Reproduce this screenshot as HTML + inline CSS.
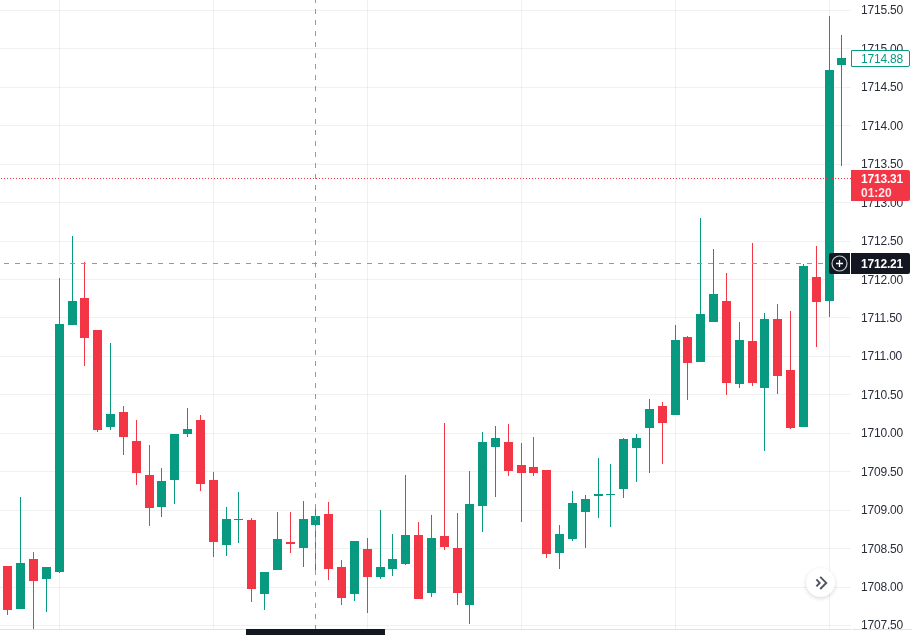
<!DOCTYPE html>
<html><head><meta charset="utf-8"><style>
html,body{margin:0;padding:0;background:#fff;}
body{width:912px;height:635px;overflow:hidden;position:relative;font-family:"Liberation Sans",sans-serif;}
svg{position:absolute;left:0;top:0;}
.pl{position:absolute;left:861px;height:14px;line-height:14px;font-size:12px;color:#2a2e39;letter-spacing:-0.2px;white-space:nowrap;-webkit-font-smoothing:antialiased;will-change:transform;}
.box{position:absolute;will-change:transform;box-sizing:border-box;font-size:12px;line-height:14px;white-space:nowrap;}
</style></head><body>
<svg width="912" height="635" viewBox="0 0 912 635" shape-rendering="crispEdges">
<rect x="0" y="10" width="851" height="1" fill="rgba(30,60,50,0.065)"/>
<rect x="0" y="48" width="851" height="1" fill="rgba(30,60,50,0.065)"/>
<rect x="0" y="87" width="851" height="1" fill="rgba(30,60,50,0.065)"/>
<rect x="0" y="125" width="851" height="1" fill="rgba(30,60,50,0.065)"/>
<rect x="0" y="164" width="851" height="1" fill="rgba(30,60,50,0.065)"/>
<rect x="0" y="202" width="851" height="1" fill="rgba(30,60,50,0.065)"/>
<rect x="0" y="241" width="851" height="1" fill="rgba(30,60,50,0.065)"/>
<rect x="0" y="279" width="851" height="1" fill="rgba(30,60,50,0.065)"/>
<rect x="0" y="317" width="851" height="1" fill="rgba(30,60,50,0.065)"/>
<rect x="0" y="356" width="851" height="1" fill="rgba(30,60,50,0.065)"/>
<rect x="0" y="394" width="851" height="1" fill="rgba(30,60,50,0.065)"/>
<rect x="0" y="433" width="851" height="1" fill="rgba(30,60,50,0.065)"/>
<rect x="0" y="471" width="851" height="1" fill="rgba(30,60,50,0.065)"/>
<rect x="0" y="510" width="851" height="1" fill="rgba(30,60,50,0.065)"/>
<rect x="0" y="548" width="851" height="1" fill="rgba(30,60,50,0.065)"/>
<rect x="0" y="587" width="851" height="1" fill="rgba(30,60,50,0.065)"/>
<rect x="0" y="625" width="851" height="1" fill="rgba(30,60,50,0.065)"/>
<rect x="59" y="0" width="1" height="629" fill="rgba(30,60,50,0.065)"/>
<rect x="213" y="0" width="1" height="629" fill="rgba(30,60,50,0.065)"/>
<rect x="367" y="0" width="1" height="629" fill="rgba(30,60,50,0.065)"/>
<rect x="521" y="0" width="1" height="629" fill="rgba(30,60,50,0.065)"/>
<rect x="675" y="0" width="1" height="629" fill="rgba(30,60,50,0.065)"/>
<rect x="829" y="0" width="1" height="629" fill="rgba(30,60,50,0.065)"/>
<rect x="0" y="629" width="851" height="1" fill="#e0e3eb"/>
<rect x="852" y="629" width="60" height="1" fill="#e0e3eb"/>
<rect x="7" y="566" width="1" height="49" fill="#f23645"/>
<rect x="3" y="566" width="9" height="44" fill="#f23645"/>
<rect x="20" y="497" width="1" height="112" fill="#089981"/>
<rect x="16" y="563" width="9" height="46" fill="#089981"/>
<rect x="33" y="552" width="1" height="77" fill="#f23645"/>
<rect x="29" y="559" width="9" height="22" fill="#f23645"/>
<rect x="46" y="567" width="1" height="45" fill="#089981"/>
<rect x="42" y="567" width="9" height="12" fill="#089981"/>
<rect x="59" y="278" width="1" height="295" fill="#089981"/>
<rect x="55" y="324" width="9" height="248" fill="#089981"/>
<rect x="72" y="236" width="1" height="89" fill="#089981"/>
<rect x="68" y="301" width="9" height="24" fill="#089981"/>
<rect x="84" y="262" width="1" height="104" fill="#f23645"/>
<rect x="80" y="298" width="9" height="40" fill="#f23645"/>
<rect x="97" y="330" width="1" height="102" fill="#f23645"/>
<rect x="93" y="330" width="9" height="100" fill="#f23645"/>
<rect x="110" y="343" width="1" height="87" fill="#089981"/>
<rect x="106" y="414" width="9" height="13" fill="#089981"/>
<rect x="123" y="406" width="1" height="49" fill="#f23645"/>
<rect x="119" y="412" width="9" height="25" fill="#f23645"/>
<rect x="136" y="420" width="1" height="65" fill="#f23645"/>
<rect x="132" y="441" width="9" height="32" fill="#f23645"/>
<rect x="149" y="445" width="1" height="81" fill="#f23645"/>
<rect x="145" y="475" width="9" height="33" fill="#f23645"/>
<rect x="161" y="468" width="1" height="49" fill="#089981"/>
<rect x="157" y="481" width="9" height="26" fill="#089981"/>
<rect x="174" y="434" width="1" height="70" fill="#089981"/>
<rect x="170" y="434" width="9" height="46" fill="#089981"/>
<rect x="187" y="408" width="1" height="29" fill="#089981"/>
<rect x="183" y="429" width="9" height="5" fill="#089981"/>
<rect x="200" y="415" width="1" height="76" fill="#f23645"/>
<rect x="196" y="420" width="9" height="64" fill="#f23645"/>
<rect x="213" y="472" width="1" height="85" fill="#f23645"/>
<rect x="209" y="480" width="9" height="62" fill="#f23645"/>
<rect x="226" y="507" width="1" height="49" fill="#089981"/>
<rect x="222" y="519" width="9" height="26" fill="#089981"/>
<rect x="238" y="492" width="1" height="51" fill="#089981"/>
<rect x="234" y="519" width="9" height="1" fill="#089981"/>
<rect x="251" y="518" width="1" height="84" fill="#f23645"/>
<rect x="247" y="520" width="9" height="69" fill="#f23645"/>
<rect x="264" y="572" width="1" height="38" fill="#089981"/>
<rect x="260" y="572" width="9" height="22" fill="#089981"/>
<rect x="277" y="512" width="1" height="58" fill="#089981"/>
<rect x="273" y="539" width="9" height="31" fill="#089981"/>
<rect x="290" y="512" width="1" height="41" fill="#f23645"/>
<rect x="286" y="542" width="9" height="2" fill="#f23645"/>
<rect x="303" y="501" width="1" height="66" fill="#089981"/>
<rect x="299" y="519" width="9" height="29" fill="#089981"/>
<rect x="315" y="509" width="1" height="61" fill="#089981"/>
<rect x="311" y="516" width="9" height="9" fill="#089981"/>
<rect x="328" y="502" width="1" height="78" fill="#f23645"/>
<rect x="324" y="514" width="9" height="55" fill="#f23645"/>
<rect x="341" y="560" width="1" height="45" fill="#f23645"/>
<rect x="337" y="567" width="9" height="31" fill="#f23645"/>
<rect x="354" y="541" width="1" height="60" fill="#089981"/>
<rect x="350" y="541" width="9" height="53" fill="#089981"/>
<rect x="367" y="538" width="1" height="75" fill="#f23645"/>
<rect x="363" y="549" width="9" height="28" fill="#f23645"/>
<rect x="380" y="510" width="1" height="69" fill="#089981"/>
<rect x="376" y="567" width="9" height="10" fill="#089981"/>
<rect x="392" y="534" width="1" height="42" fill="#089981"/>
<rect x="388" y="559" width="9" height="10" fill="#089981"/>
<rect x="405" y="475" width="1" height="90" fill="#089981"/>
<rect x="401" y="535" width="9" height="29" fill="#089981"/>
<rect x="418" y="522" width="1" height="77" fill="#f23645"/>
<rect x="414" y="535" width="9" height="64" fill="#f23645"/>
<rect x="431" y="515" width="1" height="82" fill="#089981"/>
<rect x="427" y="538" width="9" height="55" fill="#089981"/>
<rect x="444" y="423" width="1" height="127" fill="#f23645"/>
<rect x="440" y="536" width="9" height="11" fill="#f23645"/>
<rect x="457" y="513" width="1" height="92" fill="#f23645"/>
<rect x="453" y="548" width="9" height="45" fill="#f23645"/>
<rect x="469" y="471" width="1" height="153" fill="#089981"/>
<rect x="465" y="504" width="9" height="101" fill="#089981"/>
<rect x="482" y="432" width="1" height="100" fill="#089981"/>
<rect x="478" y="442" width="9" height="64" fill="#089981"/>
<rect x="495" y="426" width="1" height="71" fill="#089981"/>
<rect x="491" y="438" width="9" height="9" fill="#089981"/>
<rect x="508" y="424" width="1" height="52" fill="#f23645"/>
<rect x="504" y="442" width="9" height="29" fill="#f23645"/>
<rect x="521" y="443" width="1" height="79" fill="#f23645"/>
<rect x="517" y="465" width="9" height="8" fill="#f23645"/>
<rect x="533" y="437" width="1" height="39" fill="#f23645"/>
<rect x="529" y="467" width="9" height="6" fill="#f23645"/>
<rect x="546" y="470" width="1" height="88" fill="#f23645"/>
<rect x="542" y="470" width="9" height="84" fill="#f23645"/>
<rect x="559" y="525" width="1" height="44" fill="#089981"/>
<rect x="555" y="534" width="9" height="19" fill="#089981"/>
<rect x="572" y="491" width="1" height="50" fill="#089981"/>
<rect x="568" y="503" width="9" height="36" fill="#089981"/>
<rect x="585" y="495" width="1" height="53" fill="#089981"/>
<rect x="581" y="499" width="9" height="13" fill="#089981"/>
<rect x="598" y="458" width="1" height="60" fill="#089981"/>
<rect x="594" y="494" width="9" height="2" fill="#089981"/>
<rect x="610" y="464" width="1" height="63" fill="#089981"/>
<rect x="606" y="494" width="9" height="1" fill="#089981"/>
<rect x="623" y="438" width="1" height="60" fill="#089981"/>
<rect x="619" y="439" width="9" height="50" fill="#089981"/>
<rect x="636" y="434" width="1" height="48" fill="#089981"/>
<rect x="632" y="438" width="9" height="10" fill="#089981"/>
<rect x="649" y="399" width="1" height="74" fill="#089981"/>
<rect x="645" y="409" width="9" height="19" fill="#089981"/>
<rect x="662" y="402" width="1" height="62" fill="#f23645"/>
<rect x="658" y="406" width="9" height="17" fill="#f23645"/>
<rect x="675" y="325" width="1" height="90" fill="#089981"/>
<rect x="671" y="340" width="9" height="75" fill="#089981"/>
<rect x="687" y="336" width="1" height="64" fill="#f23645"/>
<rect x="683" y="337" width="9" height="26" fill="#f23645"/>
<rect x="700" y="218" width="1" height="144" fill="#089981"/>
<rect x="696" y="314" width="9" height="48" fill="#089981"/>
<rect x="713" y="249" width="1" height="73" fill="#089981"/>
<rect x="709" y="294" width="9" height="28" fill="#089981"/>
<rect x="726" y="273" width="1" height="122" fill="#f23645"/>
<rect x="722" y="301" width="9" height="82" fill="#f23645"/>
<rect x="739" y="322" width="1" height="66" fill="#089981"/>
<rect x="735" y="340" width="9" height="44" fill="#089981"/>
<rect x="752" y="243" width="1" height="143" fill="#f23645"/>
<rect x="748" y="341" width="9" height="42" fill="#f23645"/>
<rect x="764" y="313" width="1" height="138" fill="#089981"/>
<rect x="760" y="319" width="9" height="69" fill="#089981"/>
<rect x="777" y="304" width="1" height="90" fill="#f23645"/>
<rect x="773" y="319" width="9" height="57" fill="#f23645"/>
<rect x="790" y="311" width="1" height="118" fill="#f23645"/>
<rect x="786" y="370" width="9" height="58" fill="#f23645"/>
<rect x="803" y="264" width="1" height="163" fill="#089981"/>
<rect x="799" y="266" width="9" height="161" fill="#089981"/>
<rect x="816" y="246" width="1" height="101" fill="#f23645"/>
<rect x="812" y="277" width="9" height="25" fill="#f23645"/>
<rect x="829" y="16" width="1" height="301" fill="#089981"/>
<rect x="825" y="70" width="9" height="231" fill="#089981"/>
<rect x="841" y="35" width="1" height="131" fill="#089981"/>
<rect x="837" y="58" width="9" height="7" fill="#089981"/>
<path d="M1 178h1M4 178h1M7 178h1M10 178h1M13 178h1M16 178h1M19 178h1M22 178h1M25 178h1M28 178h1M31 178h1M34 178h1M37 178h1M40 178h1M43 178h1M46 178h1M49 178h1M52 178h1M55 178h1M58 178h1M61 178h1M64 178h1M67 178h1M70 178h1M73 178h1M76 178h1M79 178h1M82 178h1M85 178h1M88 178h1M91 178h1M94 178h1M97 178h1M100 178h1M103 178h1M106 178h1M109 178h1M112 178h1M115 178h1M118 178h1M121 178h1M124 178h1M127 178h1M130 178h1M133 178h1M136 178h1M139 178h1M142 178h1M145 178h1M148 178h1M151 178h1M154 178h1M157 178h1M160 178h1M163 178h1M166 178h1M169 178h1M172 178h1M175 178h1M178 178h1M181 178h1M184 178h1M187 178h1M190 178h1M193 178h1M196 178h1M199 178h1M202 178h1M205 178h1M208 178h1M211 178h1M214 178h1M217 178h1M220 178h1M223 178h1M226 178h1M229 178h1M232 178h1M235 178h1M238 178h1M241 178h1M244 178h1M247 178h1M250 178h1M253 178h1M256 178h1M259 178h1M262 178h1M265 178h1M268 178h1M271 178h1M274 178h1M277 178h1M280 178h1M283 178h1M286 178h1M289 178h1M292 178h1M295 178h1M298 178h1M301 178h1M304 178h1M307 178h1M310 178h1M313 178h1M316 178h1M319 178h1M322 178h1M325 178h1M328 178h1M331 178h1M334 178h1M337 178h1M340 178h1M343 178h1M346 178h1M349 178h1M352 178h1M355 178h1M358 178h1M361 178h1M364 178h1M367 178h1M370 178h1M373 178h1M376 178h1M379 178h1M382 178h1M385 178h1M388 178h1M391 178h1M394 178h1M397 178h1M400 178h1M403 178h1M406 178h1M409 178h1M412 178h1M415 178h1M418 178h1M421 178h1M424 178h1M427 178h1M430 178h1M433 178h1M436 178h1M439 178h1M442 178h1M445 178h1M448 178h1M451 178h1M454 178h1M457 178h1M460 178h1M463 178h1M466 178h1M469 178h1M472 178h1M475 178h1M478 178h1M481 178h1M484 178h1M487 178h1M490 178h1M493 178h1M496 178h1M499 178h1M502 178h1M505 178h1M508 178h1M511 178h1M514 178h1M517 178h1M520 178h1M523 178h1M526 178h1M529 178h1M532 178h1M535 178h1M538 178h1M541 178h1M544 178h1M547 178h1M550 178h1M553 178h1M556 178h1M559 178h1M562 178h1M565 178h1M568 178h1M571 178h1M574 178h1M577 178h1M580 178h1M583 178h1M586 178h1M589 178h1M592 178h1M595 178h1M598 178h1M601 178h1M604 178h1M607 178h1M610 178h1M613 178h1M616 178h1M619 178h1M622 178h1M625 178h1M628 178h1M631 178h1M634 178h1M637 178h1M640 178h1M643 178h1M646 178h1M649 178h1M652 178h1M655 178h1M658 178h1M661 178h1M664 178h1M667 178h1M670 178h1M673 178h1M676 178h1M679 178h1M682 178h1M685 178h1M688 178h1M691 178h1M694 178h1M697 178h1M700 178h1M703 178h1M706 178h1M709 178h1M712 178h1M715 178h1M718 178h1M721 178h1M724 178h1M727 178h1M730 178h1M733 178h1M736 178h1M739 178h1M742 178h1M745 178h1M748 178h1M751 178h1M754 178h1M757 178h1M760 178h1M763 178h1M766 178h1M769 178h1M772 178h1M775 178h1M778 178h1M781 178h1M784 178h1M787 178h1M790 178h1M793 178h1M796 178h1M799 178h1M802 178h1M805 178h1M808 178h1M811 178h1M814 178h1M817 178h1M820 178h1M823 178h1M826 178h1M829 178h1M832 178h1M835 178h1M838 178h1M841 178h1M844 178h1M847 178h1M850 178h1" stroke="#f23645" stroke-width="1" transform="translate(0,0.5)"/>
<path d="M4 263h5M15 263h5M26 263h5M37 263h5M48 263h5M59 263h5M70 263h5M81 263h5M92 263h5M103 263h5M114 263h5M125 263h5M136 263h5M147 263h5M158 263h5M169 263h5M180 263h5M191 263h5M202 263h5M213 263h5M224 263h5M235 263h5M246 263h5M257 263h5M268 263h5M279 263h5M290 263h5M301 263h5M312 263h5M323 263h5M334 263h5M345 263h5M356 263h5M367 263h5M378 263h5M389 263h5M400 263h5M411 263h5M422 263h5M433 263h5M444 263h5M455 263h5M466 263h5M477 263h5M488 263h5M499 263h5M510 263h5M521 263h5M532 263h5M543 263h5M554 263h5M565 263h5M576 263h5M587 263h5M598 263h5M609 263h5M620 263h5M631 263h5M642 263h5M653 263h5M664 263h5M675 263h5M686 263h5M697 263h5M708 263h5M719 263h5M730 263h5M741 263h5M752 263h5M763 263h5M774 263h5M785 263h5M796 263h5M807 263h5M818 263h5" stroke="#9598a1" stroke-width="1" transform="translate(0,0.5)"/>
<path d="M315 -2v5M315 9v5M315 20v5M315 31v5M315 42v5M315 53v5M315 64v5M315 75v5M315 86v5M315 97v5M315 108v5M315 119v5M315 130v5M315 141v5M315 152v5M315 163v5M315 174v5M315 185v5M315 196v5M315 207v5M315 218v5M315 229v5M315 240v5M315 251v5M315 262v5M315 273v5M315 284v5M315 295v5M315 306v5M315 317v5M315 328v5M315 339v5M315 350v5M315 361v5M315 372v5M315 383v5M315 394v5M315 405v5M315 416v5M315 427v5M315 438v5M315 449v5M315 460v5M315 471v5M315 482v5M315 493v5M315 504v5M315 515v5M315 526v5M315 537v5M315 548v5M315 559v5M315 570v5M315 581v5M315 592v5M315 603v5M315 614v5M315 625v5" stroke="#9598a1" stroke-width="1" transform="translate(0.5,0)"/>
</svg>
<div class="pl" style="top:3px">1715.50</div>
<div class="pl" style="top:42px">1715.00</div>
<div class="pl" style="top:80px">1714.50</div>
<div class="pl" style="top:119px">1714.00</div>
<div class="pl" style="top:157px">1713.50</div>
<div class="pl" style="top:196px">1713.00</div>
<div class="pl" style="top:234px">1712.50</div>
<div class="pl" style="top:273px">1712.00</div>
<div class="pl" style="top:311px">1711.50</div>
<div class="pl" style="top:349px">1711.00</div>
<div class="pl" style="top:388px">1710.50</div>
<div class="pl" style="top:426px">1710.00</div>
<div class="pl" style="top:465px">1709.50</div>
<div class="pl" style="top:503px">1709.00</div>
<div class="pl" style="top:542px">1708.50</div>
<div class="pl" style="top:580px">1708.00</div>
<div class="pl" style="top:618px">1707.50</div>
<div class="box" style="left:851px;top:50px;width:59px;height:17px;border:1px solid #089981;border-radius:0 2px 2px 0;background:#fff;color:#089981;padding-left:9px;line-height:17px;letter-spacing:-0.2px;">1714.88</div>
<div class="box" style="left:851px;top:170px;width:59px;height:31px;background:#f23645;border-radius:0 2px 2px 0;color:#fff;padding:2px 0 0 10px;line-height:14px;">
<div style="font-weight:bold;letter-spacing:-0.2px;">1713.31</div><div style="opacity:.88;font-weight:bold;">01:20</div></div>
<div class="box" style="left:829px;top:253px;width:21px;height:21px;background:#131722;border-radius:2px 0 0 2px;"></div>
<svg width="21" height="21" style="left:829px;top:253px;position:absolute" viewBox="0 0 21 21">
<circle cx="10.5" cy="10.5" r="7.5" fill="none" stroke="#c3c6ce" stroke-width="1.2"/>
<path d="M10.5 7v7M7 10.5h7" stroke="#fff" stroke-width="1.3"/>
</svg>
<div class="box" style="left:851px;top:253px;width:59px;height:21px;background:#131722;border-radius:0 2px 2px 0;color:#fff;font-weight:bold;padding-left:10px;line-height:23px;letter-spacing:-0.2px;">1712.21</div>
<div style="position:absolute;left:806px;top:568px;width:29px;height:29px;border-radius:50%;background:#fff;box-shadow:0 1.5px 4px rgba(0,0,0,.15);"></div>
<svg width="29" height="29" style="left:806px;top:568px;position:absolute" viewBox="0 0 29 29" shape-rendering="geometricPrecision">
<path d="M10.4 11.4l3.3 3.5-3.3 3.5M14.2 8.8l6 6.1-6 6.1" fill="none" stroke="#50535e" stroke-width="1.9"/>
</svg>
<div style="position:absolute;left:246px;top:629px;width:139px;height:10px;background:#131722;"></div>
</body></html>
